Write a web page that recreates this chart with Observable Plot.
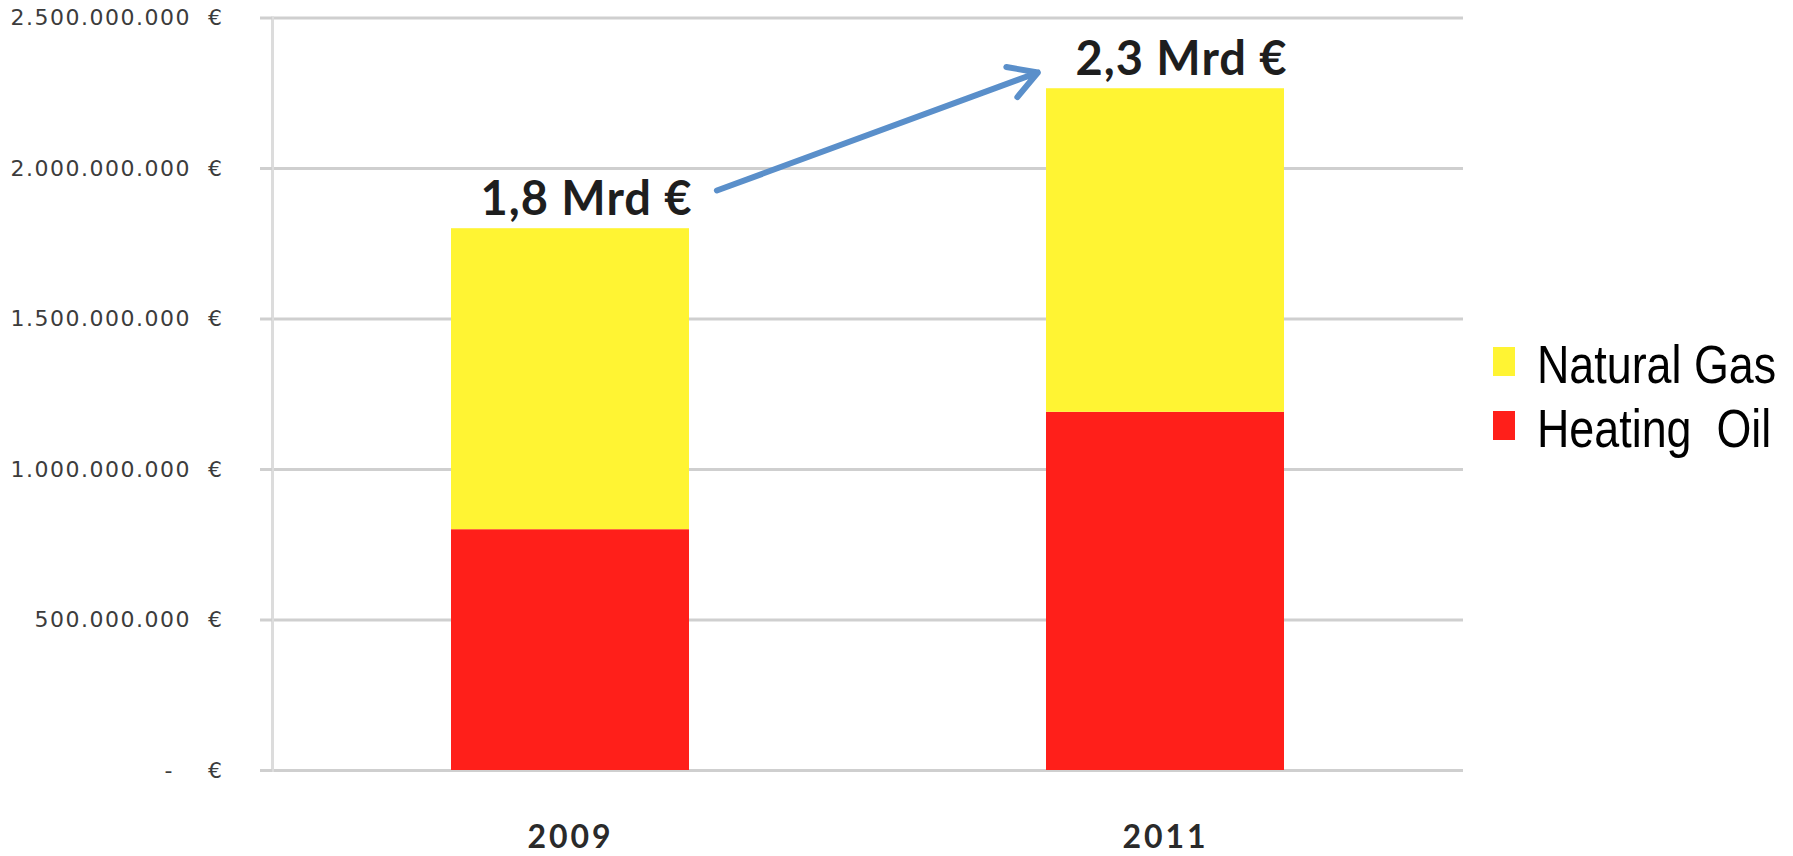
<!DOCTYPE html>
<html>
<head>
<meta charset="utf-8">
<script src="https://cdn.jsdelivr.net/npm/d3@7"></script>
<script src="https://cdn.jsdelivr.net/npm/@observablehq/plot@0.6"></script>
<style>
  html, body { margin: 0; padding: 0; background: #fff; }
  #wrap { position: relative; width: 1793px; height: 856px; overflow: hidden; }
  #chart { position: absolute; left: 0; top: 0; }
  #chart svg { display: block; }
  g[aria-label="y-axis tick label"] { letter-spacing: 1.5px; }
  g[aria-label="x-axis tick label"] { letter-spacing: 3px; }
  g[aria-label="text"] { letter-spacing: 1px; }
  .legend { position: absolute; left: 1493px; top: 0; width: 300px; height: 856px; font-family: "Liberation Sans", Arial, sans-serif; font-size: 54px; line-height: 54px; color: #000; }
  .legend .item { position: absolute; left: 0; width: 300px; height: 60px; white-space: pre; }
  .legend .sw { position: absolute; left: 0; width: 22px; height: 29px; }
  .legend .lab { position: absolute; left: 44px; top: 0; white-space: pre; transform: scaleX(0.83); transform-origin: 0 0; }
</style>
</head>
<body>
<div id="wrap">
  <div id="chart"></div>
  <div class="legend" id="legend"></div>
</div>
<script>
// ---- data ----
const years = ["2009", "2011"];
const heatingOil = [0.80e9, 1.19e9];
const naturalGas = [1.00e9, 1.075e9];
const totalLabels = ["1,8 Mrd €", "2,3 Mrd €"];
const seriesNames = ["Heating Oil", "Natural Gas"];
const seriesColors = ["#ff1f1a", "#fff433"];
const legendNames = ["Natural Gas", "Heating  Oil"];
const legendColors = ["#fff433", "#ff1f1a"];
const yTicks = [0, 5e8, 1e9, 1.5e9, 2e9, 2.5e9];
const arrowFrom = {year: "2009", value: 1.748e9};
const arrowTo = {year: "2011", value: 2.475e9};

// ---- build tables ----
const rows = [];
years.forEach((yr, i) => {
  rows.push({year: yr, fuel: seriesNames[0], value: heatingOil[i]});
  rows.push({year: yr, fuel: seriesNames[1], value: naturalGas[i]});
});
const totals = years.map((yr, i) => ({year: yr, total: heatingOil[i] + naturalGas[i], label: totalLabels[i]}));
const arrows = [{x1: arrowFrom.year, y1: arrowFrom.value, x2: arrowTo.year, y2: arrowTo.value}];

const fmtNum = d3.formatLocale({decimal: ",", thousands: ".", grouping: [3], currency: ["", " €"]}).format(",");
const tickFmt = d => d === 0 ? "-\u00a0\u00a0\u00a0\u00a0€" : fmtNum(d) + "\u00a0\u00a0€";

const chart = Plot.plot({
  width: 1793,
  height: 856,
  marginLeft: 272,
  marginRight: 330,
  marginTop: 17.5,
  marginBottom: 86,
  style: {background: "#fff", overflow: "visible"},
  x: {domain: years, paddingInner: 0.6, paddingOuter: 0.3, axis: null},
  y: {domain: [0, 2.5e9], axis: null},
  color: {domain: seriesNames, range: seriesColors},
  marks: [
    Plot.gridY(yTicks, {stroke: "#cfcfcf", strokeOpacity: 1, strokeWidth: 3}),
    Plot.frame({anchor: "left", stroke: "#dcdcdc", strokeWidth: 3}),
    Plot.barY(rows, {x: "year", y: "value", fill: "fuel", order: seriesNames}),
    Plot.text(totals, {
      x: "year", y: "total", text: "label", dx: 16, dy: -14,
      lineAnchor: "bottom", fontSize: 47, fontWeight: "bold",
      fontFamily: "Lato, 'Open Sans', sans-serif", fill: "#1e1e1e"
    }),
    Plot.arrow(arrows, {
      x1: "x1", y1: "y1", x2: "x2", y2: "y2",
      stroke: "#5a8fca", strokeWidth: 6, insetStart: 156, insetEnd: 136,
      headLength: 8
    }),
    Plot.axisY({
      ticks: yTicks, tickFormat: tickFmt, tickSize: 12, tickPadding: 37,
      stroke: "#cfcfcf", strokeWidth: 3,
      fontSize: 22, fontFamily: "'DejaVu Sans', sans-serif", fill: "#3c3c3c", label: null
    }),
    Plot.axisX({
      tickSize: 0, tickPadding: 55, fontSize: 32, fontWeight: "bold",
      fontFamily: "Lato, 'Open Sans', sans-serif", fill: "#2a2a2a", label: null
    })
  ]
});
document.getElementById("chart").appendChild(chart);

// ---- legend ----
const legend = document.getElementById("legend");
const baselines = [383, 447];
legendNames.forEach((name, i) => {
  const item = document.createElement("div");
  item.className = "item";
  item.style.top = (baselines[i] - 46) + "px";
  const sw = document.createElement("div");
  sw.className = "sw";
  sw.style.background = legendColors[i];
  sw.style.top = "10px";
  const lab = document.createElement("div");
  lab.className = "lab";
  lab.textContent = name;
  item.appendChild(sw);
  item.appendChild(lab);
  legend.appendChild(item);
});
</script>
</body>
</html>
